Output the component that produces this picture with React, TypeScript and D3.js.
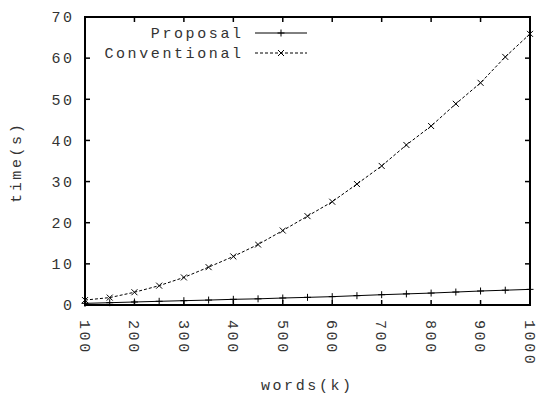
import { useEffect, useRef } from "react";
import * as d3 from "d3";

const words = [100, 150, 200, 250, 300, 350, 400, 450, 500, 550, 600, 650, 700, 750, 800, 850, 900, 950, 1000];
const proposal = [0.4, 0.56, 0.73, 0.9, 1.05, 1.2, 1.38, 1.5, 1.7, 1.86, 2.03, 2.27, 2.5, 2.7, 2.9, 3.15, 3.4, 3.6, 3.8];
const conventional = [1.2, 1.8, 3.1, 4.7, 6.7, 9.2, 11.8, 14.7, 18.1, 21.6, 25.1, 29.4, 33.8, 38.9, 43.5, 48.9, 54.0, 60.3, 65.9];
const xTicks = [100, 200, 300, 400, 500, 600, 700, 800, 900, 1000];
const yTicks = [0, 10, 20, 30, 40, 50, 60, 70];

const W = 536;
const H = 394;
const FONT = "'Liberation Mono', 'DejaVu Sans Mono', monospace";
const LS = 2.6; // letter spacing to mimic the wide Courier cells

export default function App() {
  const ref = useRef<SVGSVGElement>(null);

  useEffect(() => {
    const svg = d3.select(ref.current);
    svg.selectAll("*").remove();

    const m = { left: 85, right: 530, top: 17, bottom: 305 };
    const x = d3.scaleLinear().domain([100, 1000]).range([m.left, m.right]);
    const y = d3.scaleLinear().domain([0, 70]).range([m.bottom, m.top]);
    const tickLen = 5;

    /* -------- ticks -------- */
    const g = svg.append("g").attr("stroke", "#000").attr("stroke-width", 1.5);
    xTicks.forEach((t) => {
      g.append("line").attr("x1", x(t)).attr("x2", x(t)).attr("y1", m.bottom).attr("y2", m.bottom - tickLen);
      g.append("line").attr("x1", x(t)).attr("x2", x(t)).attr("y1", m.top).attr("y2", m.top + tickLen);
    });
    yTicks.forEach((t) => {
      g.append("line").attr("x1", m.left).attr("x2", m.left + tickLen).attr("y1", y(t)).attr("y2", y(t));
      g.append("line").attr("x1", m.right).attr("x2", m.right - tickLen).attr("y1", y(t)).attr("y2", y(t));
    });

    /* -------- tick labels -------- */
    const txt = svg
      .append("g")
      .attr("font-family", FONT)
      .attr("font-size", 15)
      .attr("letter-spacing", LS)
      .attr("fill", "#333");
    yTicks.forEach((t) => {
      txt.append("text").attr("x", 72 + LS).attr("y", y(t)).attr("dy", "0.35em").attr("text-anchor", "end").text(t);
    });
    xTicks.forEach((t) => {
      txt
        .append("text")
        .attr("transform", `translate(${x(t)},${m.bottom + 15}) rotate(90)`)
        .attr("dy", "0.35em")
        .text(t);
    });
    txt
      .append("text")
      .attr("transform", `translate(16,${161 + LS / 2}) rotate(-90)`)
      .attr("dy", "0.35em")
      .attr("text-anchor", "middle")
      .text("time(s)");
    txt
      .append("text")
      .attr("x", 306 + LS / 2)
      .attr("y", 385)
      .attr("dy", "0.35em")
      .attr("text-anchor", "middle")
      .text("words(k)");

    /* -------- series -------- */
    const line = d3
      .line<number>()
      .x((_, i) => x(words[i]))
      .y((d) => y(d));

    const plus = (sel: any, px: number, py: number) => {
      sel.append("path").attr("d", `M${px - 3.5},${py}H${px + 3.5}M${px},${py - 3.5}V${py + 3.5}`);
    };
    const cross = (sel: any, px: number, py: number) => {
      sel.append("path").attr("d", `M${px - 3},${py - 3}L${px + 3},${py + 3}M${px - 3},${py + 3}L${px + 3},${py - 3}`);
    };

    const s = svg.append("g").attr("fill", "none").attr("stroke", "#000").attr("stroke-width", 1);
    s.append("path").attr("d", line(proposal));
    s.append("path").attr("d", line(conventional)).attr("stroke-dasharray", "3,2");
    proposal.forEach((v, i) => plus(s, x(words[i]), y(v)));
    conventional.forEach((v, i) => cross(s, x(words[i]), y(v)));

    /* -------- legend -------- */
    const legend = [
      { name: "Proposal", y: 33, dash: null as string | null, mark: plus },
      { name: "Conventional", y: 53, dash: "3,2", mark: cross },
    ];
    legend.forEach((l) => {
      txt
        .append("text")
        .attr("x", 241 + LS)
        .attr("y", l.y)
        .attr("dy", "0.35em")
        .attr("text-anchor", "end")
        .text(l.name);
      const p = s.append("path").attr("d", `M255,${l.y}H307`);
      if (l.dash) p.attr("stroke-dasharray", l.dash);
      l.mark(s, 281, l.y);
    });

    /* -------- frame -------- */
    svg
      .append("rect")
      .attr("x", m.left)
      .attr("y", m.top)
      .attr("width", m.right - m.left)
      .attr("height", m.bottom - m.top)
      .attr("fill", "none")
      .attr("stroke", "#000")
      .attr("stroke-width", 2);
  }, []);

  return (
    <svg
      ref={ref}
      width={W}
      height={H}
      style={{ position: "absolute", left: 0, top: 0, background: "#fff" }}
    />
  );
}
